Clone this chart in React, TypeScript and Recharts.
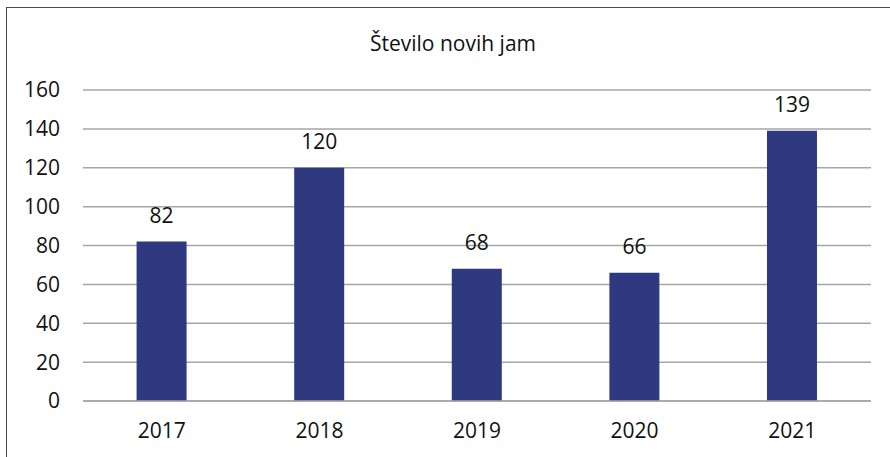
import { Bar, BarChart, CartesianGrid, LabelList, XAxis, YAxis } from "recharts";

const years = ["2017", "2018", "2019", "2020", "2021"];
const newCaves = [82, 120, 68, 66, 139];
const yTicks = [0, 20, 40, 60, 80, 100, 120, 140, 160];

const data = years.map((year, i) => ({ year, value: newCaves[i] }));

const FONT = "'Open Sans', 'Noto Sans', sans-serif";
const BAR = "#2f397f";
const GRID = "#a6a6a6";

export default function App() {
  return (
    <div
      style={{
        position: "absolute",
        left: 0,
        top: 0,
        width: 890,
        height: 457,
        overflow: "hidden",
        background: "#fff",
        fontFamily: FONT,
      }}
    >
      {/* frame, cut off at the right and bottom like the source */}
      <div
        style={{
          position: "absolute",
          left: 6,
          top: 7,
          width: 1000,
          height: 1000,
          border: "1.5px solid #4d4d4d",
        }}
      />
      <div
        style={{
          position: "absolute",
          left: 0,
          width: 906,
          top: 28,
          textAlign: "center",
          fontSize: 21,
          color: "#111",
          lineHeight: "30px",
        }}
      >
        Število novih jam
      </div>
      <BarChart
        width={890}
        height={457}
        data={data}
        margin={{ top: 90, right: 19, left: 0, bottom: 26 }}
        barCategoryGap="34%"
        style={{ position: "absolute", left: 0, top: 0 }}
      >
        <CartesianGrid vertical={false} stroke={GRID} strokeWidth={1.5} />
        <XAxis
          dataKey="year"
          height={30}
          tickLine={false}
          tickSize={0}
          tickMargin={22}
          axisLine={{ stroke: GRID, strokeWidth: 1.5 }}
          tick={{ fill: "#111", fontSize: 21, fontFamily: FONT }}
        />
        <YAxis
          width={83}
          domain={[0, 160]}
          ticks={yTicks}
          tickLine={false}
          axisLine={false}
          tickSize={0}
          tickMargin={23}
          tick={{ fill: "#111", fontSize: 21, fontFamily: FONT }}
        />
        <Bar dataKey="value" fill={BAR} isAnimationActive={false}>
          <LabelList
            dataKey="value"
            position="top"
            offset={19}
            fill="#111"
            fontSize={21}
            fontFamily={FONT}
          />
        </Bar>
      </BarChart>
    </div>
  );
}
